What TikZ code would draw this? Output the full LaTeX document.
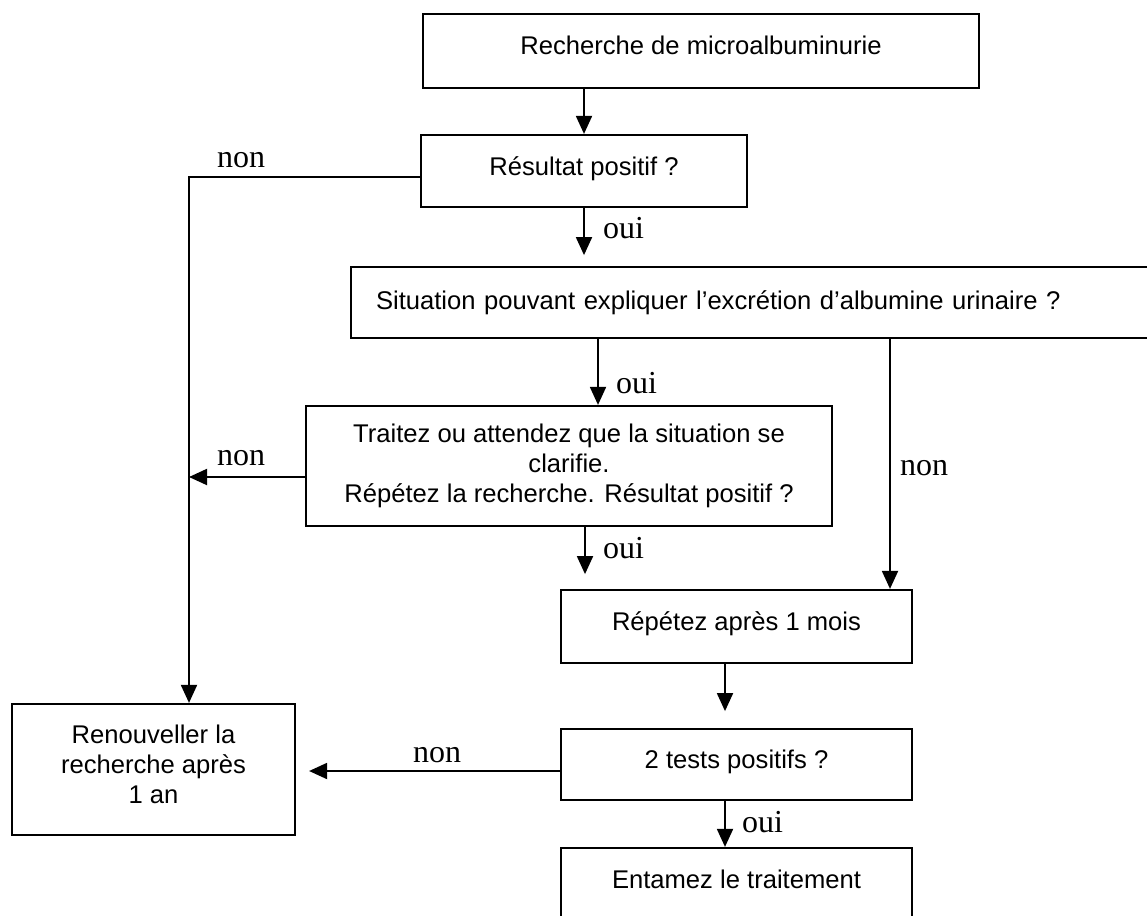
\documentclass[tikz,border=0pt]{standalone}
\usepackage{fontspec}
\setmainfont{Liberation Sans}
\newfontfamily\labfont{Liberation Serif}
\usetikzlibrary{arrows.meta,calc}
\begin{document}
\begin{tikzpicture}[x=1pt,y=-1pt,
  box/.style={draw=black, line width=2.2pt, inner sep=0pt, align=center,
              font=\fontsize{25.6pt}{30pt}\selectfont},
  raised/.style={text height=18pt, text depth=10pt},
  conn/.style={line width=1.9pt, -{Triangle[length=18pt,width=16pt]}},
  lab/.style={font=\labfont\fontsize{32pt}{36pt}\selectfont, inner sep=0pt, anchor=base west}]
\useasboundingbox (0,0) rectangle (1147,915);
\clip (0,0) rectangle (1147,915);
\fill[white] (0,0) rectangle (1147,915);

% boxes
\node[box, raised, minimum width=556pt, minimum height=74pt] (b1) at (701,51) {Recherche de microalbuminurie};
\node[box, raised, minimum width=326pt, minimum height=72pt] (b2) at (584,171) {Résultat positif ?};
\node[box, minimum width=809pt, minimum height=71pt, inner xsep=25pt, text width=759pt, align=left] (b3) at (755.5,302.5) {Situation pouvant expliquer l’excrétion d’albumine urinaire ?};
\node[box, minimum width=526pt, minimum height=120pt] (b4) at (569,466) {Traitez ou attendez que la situation se\\clarifie.\\Répétez la recherche. Résultat positif ?};
\node[box, raised, minimum width=351pt, minimum height=73pt] (b5) at (736.5,626.5) {Répétez après 1 mois};
\node[box, minimum width=283pt, minimum height=131pt, text depth=10pt] (b6) at (153.5,769.5) {Renouveller la\\recherche après\\1 an};
\node[box, raised, minimum width=351pt, minimum height=71pt] (b7) at (736.5,764.5) {2 tests positifs ?};
\node[box, raised, minimum width=351pt, minimum height=72pt] (b8) at (736.5,884) {Entamez le traitement};

% connectors
\draw[conn] (b1.south -| b2.north) -- (b2.north);

\coordinate (e1) at ($(b2.south)+(0,47)$);
\draw[conn] (b2.south) -- (e1);

\coordinate (vl) at ([xshift=35.5pt]b6.north);
\draw[conn] ([yshift=-6pt]b2.west) -| (vl);

\draw[conn] ([xshift=29pt]b4.north |- b3.south) -- ([xshift=29pt]b4.north);
\draw[conn] ([xshift=153.5pt]b5.north |- b3.south) -- ([xshift=153.5pt]b5.north);

\coordinate (s4) at ([yshift=-11pt]b4.west);
\coordinate (e2) at (vl |- s4);
\draw[conn] (s4) -- (e2);

\coordinate (e3) at ($(b4.south)+(16,47)$);
\draw[conn] (e3 |- b4.south) -- (e3);

\coordinate (e4) at ($(b5.south)+(-11.5,47)$);
\draw[conn] (e4 |- b5.south) -- (e4);

\coordinate (s7) at ([yshift=-6.5pt]b7.west);
\coordinate (e5) at ([xshift=13pt]b6.east |- s7);
\draw[conn] (s7) -- (e5);

\draw[conn] ([xshift=-11.5pt]b7.south) -- ([xshift=-11.5pt]b8.north);

% labels
\node[lab] (l1) at (217,167) {non};
\node[lab] (l2) at (603,238) {oui};
\node[lab] (l3) at (616,393) {oui};
\node[lab] (l4) at (217,465) {non};
\node[lab] (l5) at (900,475) {non};
\node[lab] (l6) at (603,558) {oui};
\node[lab] (l7) at (413,762) {non};
\node[lab] (l8) at (742,832) {oui};
\end{tikzpicture}
\end{document}
